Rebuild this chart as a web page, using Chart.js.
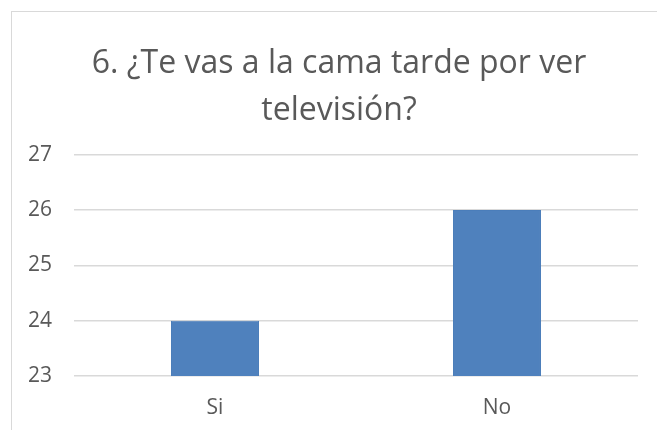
<!DOCTYPE html>
<html>
<head>
<meta charset="utf-8">
<script src="https://cdn.jsdelivr.net/npm/chart.js@4/dist/chart.umd.min.js"></script>
<style>
    html, body { margin: 0; padding: 0; background: #ffffff; overflow: hidden; width: 657px; height: 430px; }
    #frame { position: absolute; left: 11px; top: 11px; width: 654px; height: 432px; border-left: 1px solid #d9d9d9; border-top: 1px solid #d9d9d9; }
    #chart { display: block; }
</style>
</head>
<body>
<div id="frame"><canvas id="chart" width="654" height="432"></canvas></div>
<script>
const titleLines = ["6. ¿Te vas a la cama tarde por ver", "televisión?"];
const categories = ["Si", "No"];
const answers = [24, 26];
const yTicks = [23, 24, 25, 26, 27];

const textColor = "#595959";
const gridColor = "#d9d9d9";
const fontFamily = "'Open Sans', sans-serif";

new Chart(document.querySelector("#chart"), {
    type: "bar",
    data: {
        labels: categories,
        datasets: [{ data: answers, backgroundColor: "#4f81bd", borderColor: "#4a7dba", borderWidth: 1, barPercentage: 0.312, categoryPercentage: 1 }]
    },
    options: {
        responsive: false,
        animation: false,
        layout: { padding: 0 },
        plugins: {
            legend: { display: false },
            tooltip: { enabled: false },
            title: { display: true, text: titleLines, color: textColor, font: { family: fontFamily, size: 32, weight: "normal", lineHeight: 1.45 }, padding: { top: 29, bottom: 21 } }
        },
        scales: {
            y: {
                min: yTicks[0],
                max: yTicks[yTicks.length - 1],
                afterBuildTicks: (scale) => { scale.ticks = yTicks.map((value) => ({ value })); },
                afterFit: (scale) => { scale.width = 62; },
                ticks: { color: textColor, padding: 22, font: { family: fontFamily, size: 21 } },
                grid: { color: gridColor, lineWidth: 1.5, drawTicks: false },
                border: { display: false }
            },
            // empty right-hand margin, so the title stays centred on the whole frame
            spacer: {
                type: "linear",
                position: "right",
                afterFit: (scale) => { scale.width = 28; },
                ticks: { display: false },
                grid: { display: false, drawTicks: false },
                border: { display: false }
            },
            x: {
                afterFit: (scale) => { scale.height = 68; },
                ticks: { color: textColor, padding: 19, font: { family: fontFamily, size: 21 } },
                grid: { display: false, drawTicks: false },
                border: { display: false }
            }
        }
    }
});
</script>
</body>
</html>
